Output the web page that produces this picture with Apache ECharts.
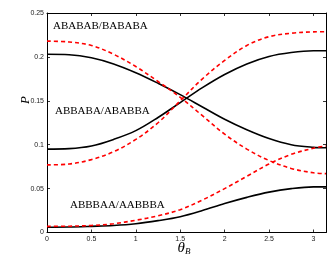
<!DOCTYPE html>
<html>
<head>
<meta charset="utf-8">
<script src="https://cdn.jsdelivr.net/npm/echarts@6/dist/echarts.min.js"></script>
<style>html,body{margin:0;padding:0;background:#fff}#c{width:328px;height:256px}</style>
</head>
<body>
<div id="c"></div>
<script>
var theta = [0, 0.25, 0.5, 0.75, 1.0, 1.25, 1.5, 1.75, 2.0, 2.25, 2.5, 2.75, 3.0, 3.1416];
var abababExact  = [0.203, 0.2025, 0.199, 0.192, 0.182, 0.170, 0.157, 0.143, 0.129, 0.117, 0.107, 0.100, 0.097, 0.0965];
var abababApprox = [0.218, 0.217, 0.213, 0.203, 0.189, 0.172, 0.154, 0.133, 0.112, 0.095, 0.082, 0.073, 0.068, 0.067];
var abbabaExact  = [0.095, 0.0955, 0.0985, 0.106, 0.116, 0.131, 0.148, 0.165, 0.180, 0.192, 0.2005, 0.205, 0.207, 0.207];
var abbabaApprox = [0.077, 0.078, 0.083, 0.092, 0.106, 0.125, 0.150, 0.175, 0.196, 0.213, 0.223, 0.227, 0.2285, 0.2287];
var abbbaaExact  = [0.006, 0.0062, 0.007, 0.008, 0.010, 0.0135, 0.018, 0.025, 0.033, 0.040, 0.046, 0.050, 0.052, 0.052];
var abbbaaApprox = [0.007, 0.0072, 0.008, 0.010, 0.014, 0.019, 0.026, 0.037, 0.050, 0.064, 0.078, 0.089, 0.096, 0.0985];
var curveLabels = ['ABABAB/BABABA', 'ABBABA/ABABBA', 'ABBBAA/AABBBA'];
var xTickLabels = ['0', '0.5', '1', '1.5', '2', '2.5', '3'];
var yTickLabels = ['0', '0.05', '0.1', '0.15', '0.2', '0.25'];

function pairs(ys) { return theta.map(function (t, i) { return [t, ys[i]]; }); }
function exactSeries(ys) {
  return { type: 'line', data: pairs(ys), smooth: 0.35, showSymbol: false, xAxisIndex: 0, yAxisIndex: 0,
    lineStyle: { color: '#000', width: 1.6 }, z: 3 };
}
function approxSeries(ys) {
  return { type: 'line', data: pairs(ys), smooth: 0.35, showSymbol: false, xAxisIndex: 0, yAxisIndex: 0,
    lineStyle: { color: '#ff0000', width: 1.6, type: [4, 3] }, z: 4 };
}
var axisCommon = {
  axisLine: { show: true, onZero: false, lineStyle: { color: '#000', width: 1 } },
  axisTick: { show: true, inside: true, length: 3, lineStyle: { color: '#000', width: 0.8 } },
  splitLine: { show: false }
};
var chart = echarts.init(document.getElementById('c'), null, { renderer: 'canvas' });
chart.setOption({
  backgroundColor: '#fff',
  animation: false,
  grid: { left: 47, right: 2, top: 13, bottom: 23.5 },
  xAxis: [
    Object.assign({ type: 'value', min: 0, max: Math.PI, interval: 0.5, position: 'bottom',
      axisLabel: { fontSize: 7, color: '#222', margin: 3, showMaxLabel: false, fontFamily: 'Liberation Sans',
        formatter: function (v) { var i = Math.round(v / 0.5); return (Math.abs(v - i * 0.5) < 1e-6) ? xTickLabels[i] : ''; } }
    }, axisCommon),
    Object.assign({ type: 'value', min: 0, max: Math.PI, interval: 0.5, position: 'top', axisLabel: { show: false } }, axisCommon)
  ],
  yAxis: [
    Object.assign({ type: 'value', min: 0, max: 0.25, interval: 0.05, position: 'left',
      axisLabel: { fontSize: 7, color: '#222', margin: 3, fontFamily: 'Liberation Sans',
        formatter: function (v) { return yTickLabels[Math.round(v / 0.05)]; } }
    }, axisCommon),
    Object.assign({ type: 'value', min: 0, max: 0.25, interval: 0.05, position: 'right', axisLabel: { show: false } }, axisCommon)
  ],
  series: [
    exactSeries(abababExact), approxSeries(abababApprox),
    exactSeries(abbabaExact), approxSeries(abbabaApprox),
    exactSeries(abbbaaExact), approxSeries(abbbaaApprox)
  ],
  graphic: [
    { type: 'text', left: 53, top: 20.5, style: { text: curveLabels[0], font: '11px "Liberation Serif"', fill: '#000' } },
    { type: 'text', left: 55, top: 105.5, style: { text: curveLabels[1], font: '11px "Liberation Serif"', fill: '#000' } },
    { type: 'text', left: 70, top: 199.5, style: { text: curveLabels[2], font: '11px "Liberation Serif"', fill: '#000' } },
    { type: 'text', x: 26, y: 100, rotation: Math.PI / 2,
      style: { text: 'P', font: 'italic 13px "Liberation Serif"', fill: '#000', align: 'center', verticalAlign: 'middle' } },
    { type: 'text', x: 184, y: 248,
      style: { text: '{t|θ}{s|B}', align: 'center', verticalAlign: 'middle',
        rich: { t: { font: 'italic 15px "Liberation Serif"', fill: '#000' },
                s: { font: 'italic 9px "Liberation Serif"', fill: '#000', padding: [8, 0, 0, 0] } } } }
  ]
});
</script>
</body>
</html>
